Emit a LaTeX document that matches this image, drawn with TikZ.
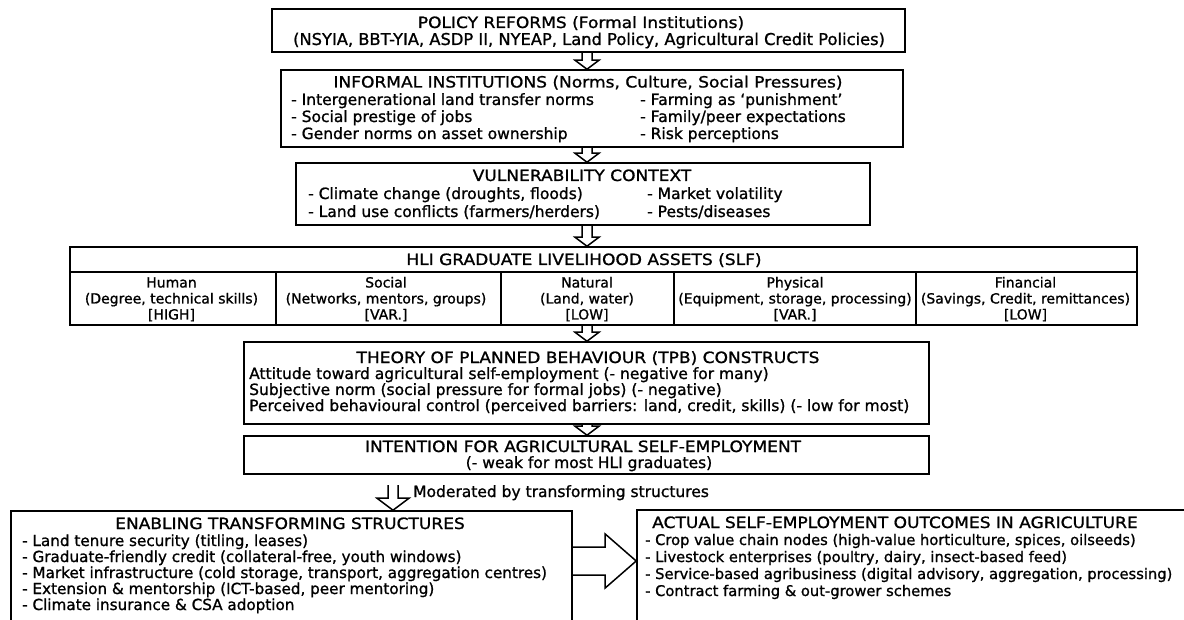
\documentclass[tikz,border=0pt]{standalone}
\usepackage{fontspec}
\setmainfont{DejaVu Sans}[FakeBold=1.1]
\newfontfamily\capsfont{DejaVu Sans}[FakeStretch=1.1,FakeBold=1.1]
\usetikzlibrary{calc}

\tikzset{
  hollow/.style n args={3}{line width=1.5pt,to path={
      let \p1=(\tikztostart), \p2=(\tikztotarget),
          \n1={veclen(\x2-\x1,\y2-\y1)}, \n2={atan2(\y2-\y1,\x2-\x1)} in
      {[shift={(\p1)},rotate=\n2] (0,#1) -- (\n1-#3,#1) -- (\n1-#3,#2) -- (\n1,0)
        -- (\n1-#3,-#2) -- (\n1-#3,-#1) -- (0,-#1)}}}
}

\begin{document}
\begin{tikzpicture}[x=1pt,y=-1pt,
    every node/.style={font=\fontsize{15.5}{17}\selectfont,inner sep=0pt}]
  \tikzstyle{box}=[draw,line width=1.6pt]
  \tikzstyle{title}=[anchor=base,font=\capsfont\fontsize{15.5}{17}\selectfont]
  \tikzstyle{item}=[anchor=base west]
  \tikzstyle{cell}=[anchor=base,font=\fontsize{14}{16}\selectfont]
  \tikzstyle{low}=[anchor=base west,font=\fontsize{15.2}{17}\selectfont]
  \fill[white] (0,0) rectangle (1184,620);
  \useasboundingbox (0,0) rectangle (1184,620);
  \clip (0,0) rectangle (1184,620);
  \coordinate (ax) at (587,0);

  % boxes
  \node[box,minimum width=633,minimum height=43] (pol) at (588.5,30.5) {};
  \node[box,minimum width=622,minimum height=77] (inf) at (592,108.5) {};
  \node[box,minimum width=574,minimum height=62] (vul) at (583,194) {};
  \node[box,minimum width=1067,minimum height=78] (hli) at (603.5,286) {};
  \node[box,minimum width=685,minimum height=82] (tpb) at (586.5,383) {};
  \node[box,minimum width=685,minimum height=38] (int) at (586.5,455) {};
  \node[box,minimum width=561,minimum height=150] (enab) at (291.5,586) {};
  \node[box,minimum width=603,minimum height=150] (outc) at (938.5,585) {};

  % policy reforms
  \node[title] (pol-t) at (581,28) {POLICY REFORMS (Formal Institutions)};
  \node[anchor=base,font=\fontsize{16.3}{17}\selectfont] (pol-s) at (589,45)
    {(NSYIA, BBT-YIA, ASDP II, NYEAP, Land Policy, Agricultural Credit Policies)};

  % informal institutions
  \node[title] (inf-t) at (588,87.5) {INFORMAL INSTITUTIONS (Norms, Culture, Social Pressures)};
  \foreach \t [count=\i] in {{- Intergenerational land transfer norms},{- Social prestige of jobs},{- Gender norms on asset ownership}}
    \node[item] (inf-l\i) at (291,{88+17*\i}) {\t};
  \foreach \t [count=\i] in {{- Farming as ‘punishment’},{- Family/peer expectations},{- Risk perceptions}}
    \node[item] (inf-r\i) at (640,{88+17*\i}) {\t};

  % vulnerability context
  \node[title] (vul-t) at (582,181) {VULNERABILITY CONTEXT};
  \foreach \t [count=\i] in {{- Climate change (droughts, floods)},{- Land use conflicts (farmers/herders)}}
    \node[item] (vul-l\i) at (308,{181+18*\i}) {\t};
  \foreach \t [count=\i] in {{- Market volatility},{- Pests/diseases}}
    \node[item] (vul-r\i) at (647,{181+18*\i}) {\t};

  % livelihood assets
  \node[title] (hli-t) at (584,265) {HLI GRADUATE LIVELIHOOD ASSETS (SLF)};
  \draw[line width=1.6pt] (hli.west |- 0,272) -- (hli.east |- 0,272);
  \foreach \x in {276,501,674,916}
    \draw[line width=1.6pt] (\x,272) -- (\x,325);
  \foreach \cx/\na/\nb/\nc [count=\i] in {171.5/Human/{(Degree, technical skills)}/{[HIGH]},
      386/Social/{(Networks, mentors, groups)}/{[VAR.]},
      587/Natural/{(Land, water)}/{[LOW]},
      795/Physical/{(Equipment, storage, processing)}/{[VAR.]},
      1025.5/Financial/{(Savings, Credit, remittances)}/{[LOW]}}
  {
    \node[cell] (hli-n\i) at (\cx,287.5) {\na};
    \node[cell] (hli-d\i) at (\cx,303.5) {\nb};
    \node[cell] (hli-v\i) at (\cx,319.5) {\nc};
  }

  % planned behaviour
  \node[title] (tpb-t) at (588,363) {THEORY OF PLANNED BEHAVIOUR (TPB) CONSTRUCTS};
  \foreach \t [count=\i] in {{Attitude toward agricultural self-employment (- negative for many)},
      {Subjective norm (social pressure for formal jobs) (- negative)},
      {Perceived behavioural control (perceived barriers: land, credit, skills) (- low for most)}}
    \node[item] (tpb-l\i) at (249,{363+16*\i}) {\t};

  % intention
  \node[title] (int-t) at (583,452) {INTENTION FOR AGRICULTURAL SELF-EMPLOYMENT};
  \node[anchor=base] (int-s) at (589,468) {(- weak for most HLI graduates)};

  % enabling structures
  \node[title] (enab-t) at (290,529) {ENABLING TRANSFORMING STRUCTURES};
  \foreach \t [count=\i] in {{- Land tenure security (titling, leases)},
      {- Graduate-friendly credit (collateral-free, youth windows)},
      {- Market infrastructure (cold storage, transport, aggregation centres)},
      {- Extension \& mentorship (ICT-based, peer mentoring)},
      {- Climate insurance \& CSA adoption}}
    \node[low] (enab-l\i) at (22,{530+16*\i}) {\t};

  % outcomes
  \node[title,anchor=base west] (outc-t) at (652,528) {ACTUAL SELF-EMPLOYMENT OUTCOMES IN AGRICULTURE};
  \foreach \t [count=\i] in {{- Crop value chain nodes (high-value horticulture, spices, oilseeds)},
      {- Livestock enterprises (poultry, dairy, insect-based feed)},
      {- Service-based agribusiness (digital advisory, aggregation, processing)},
      {- Contract farming \& out-grower schemes}}
    \node[low,font=\fontsize{14.7}{17}\selectfont] (outc-l\i) at (645,{528+17*\i}) {\t};

  % arrows
  \draw[hollow={5}{12}{9}] (pol.south -| ax) to (inf.north -| ax);
  \draw[hollow={5}{12}{9}] (inf.south -| ax) to (vul.north -| ax);
  \draw[hollow={5}{12}{9}] (vul.south -| ax) to (hli.north -| ax);
  \draw[hollow={5}{12}{9}] (hli.south -| ax) to (tpb.north -| ax);
  \draw[hollow={5}{12}{9}] (tpb.south -| ax) to (int.north -| ax);
  \coordinate (mod) at (393,485);
  \draw[hollow={5}{16}{12}] (mod) to (mod |- enab.north);
  \node[item] (mod-t) at (413,497) {Moderated by transforming structures};
  \coordinate (big) at (572,561);
  \draw[hollow={14}{27}{31}] (big) to (big -| outc.west);
\end{tikzpicture}
\end{document}
